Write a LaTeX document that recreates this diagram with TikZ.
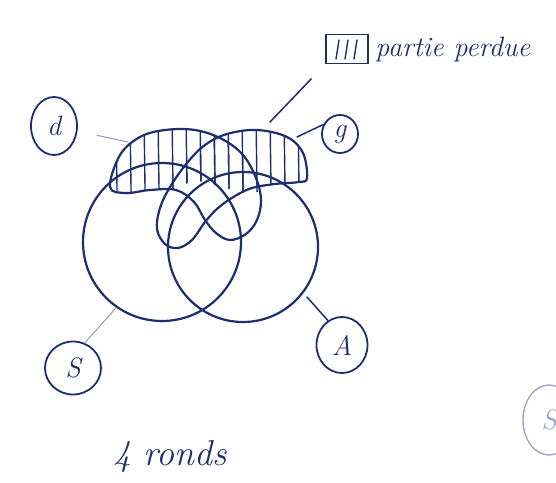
\documentclass[tikz,border=0pt]{standalone}
\usetikzlibrary{shapes.geometric,positioning}
\definecolor{ink}{RGB}{30,45,110}
\tikzset{
  pen/.style={draw=ink,line width=2.2pt,line cap=round,line join=round},
  faintpen/.style={draw=ink!45,line width=1.1pt,line cap=round},
  hatchpen/.style={draw=ink,line width=1.4pt,line cap=round},
  tag/.style 2 args={ellipse,draw=ink,line width=1.8pt,text=ink,inner sep=0pt,
    minimum width=#1,minimum height=#2,font=\fontsize{28}{30}\selectfont\itshape},
  % the two upper sets
  setD/.style={insert path={plot[smooth cycle,tension=0.6] coordinates {
    (110,187) (120,155) (140,137) (165,130) (195,130) (222,139) (243,155)
    (256,178) (261,200) (257,220) (246,234) (230,240) (216,233) (205,220)
    (194,202) (176,190) (150,190) (126,193)}}},
  setG/.style={insert path={plot[smooth cycle,tension=0.6] coordinates {
    (307,178) (303,153) (287,137) (257,130) (227,134) (205,145) (187,163)
    (170,187) (160,208) (157,229) (165,244) (178,248) (192,240) (205,222)
    (218,208) (235,196) (252,188) (275,184) (299,182)}}}
}
\begin{document}
\begin{tikzpicture}[x=1pt,y=-1pt]
  \useasboundingbox (0,0) rectangle (556,482);

  % hatched part
  \begin{scope}
    \clip (100,100) -- (100,190) -- plot[smooth] coordinates {(108,189) (140,194) (170,190)
      (195,181) (218,186) (247,193) (275,188) (300,182)} -- (320,182) -- (320,100) -- cycle;
    \begin{scope}
      \clip[setD];
      \foreach \x in {116,130,...,302}
        \draw[hatchpen] (\x,115) -- (\x+2,260);
    \end{scope}
    \begin{scope}
      \clip[setG];
      \foreach \x in {116,130,...,302}
        \draw[hatchpen] (\x,115) -- (\x+2,260);
    \end{scope}
  \end{scope}

  % the four sets
  \draw[pen] (162,242) circle[radius=79];
  \draw[pen] (243,247) circle[radius=75];
  \draw[pen,setD];
  \draw[pen,setG];

  \coordinate (dEdge) at (128,142);
  \coordinate (gEdge) at (297,137);
  \coordinate (sEdge) at (116,308);
  \coordinate (aEdge) at (307,297);

  % labels
  \node[tag={46pt}{58pt}] (labD) at (54,126) {d};
  \node[tag={36pt}{38pt}] (labG) at (340,134) {g};
  \node[tag={56pt}{53pt}] (labS) at (73,368) {S};
  \node[tag={51pt}{56pt}] (labA) at (342,345) {A};

  \draw[faintpen,shorten <=20pt] (labD) -- (dEdge);
  \draw[pen,line width=1.5pt] (labG.150) -- (gEdge);
  \draw[faintpen] (labS.65) -- (sEdge);
  \draw[pen,line width=1.5pt] (labA.120) -- (aEdge);

  % legend
  \node[draw=ink,line width=1.8pt,minimum width=42pt,minimum height=29pt,inner sep=0pt] (legBox) at (347,49) {};
  \foreach \x in {-11,-2,7}
    \draw[hatchpen] ([xshift=\x pt+3pt,yshift=9pt]legBox.center) -- ([xshift=\x pt,yshift=-10pt]legBox.center);
  \node[right=3pt of legBox,text=ink,font=\fontsize{28}{30}\selectfont\itshape] (legText) {partie perdue};
  \draw[pen,line width=1.5pt,shorten <=20pt] (legBox.south west) -- (270,122);

  \node[text=ink,font=\fontsize{36}{38}\selectfont\itshape] (title) at (170,456) {4 ronds};

  % cut-off one at the right edge
  \begin{scope}
    \clip (0,0) rectangle (556,482);
    \node[ellipse,draw=ink!45,line width=1.3pt,minimum width=52pt,minimum height=70pt,
      text=ink!45,font=\fontsize{28}{30}\selectfont\itshape] (labS2) at (549,420) {S};
  \end{scope}
\end{tikzpicture}
\end{document}
